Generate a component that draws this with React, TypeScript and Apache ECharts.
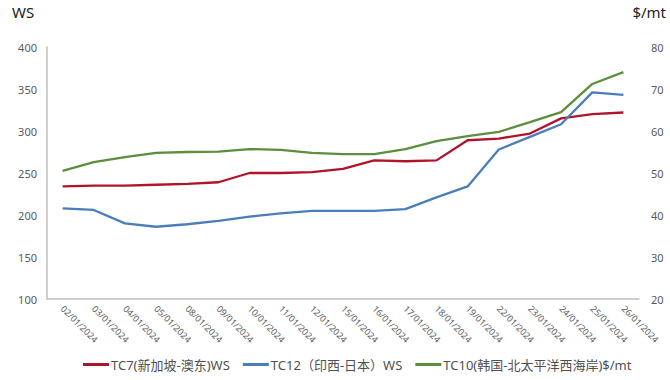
import React, { useEffect, useRef } from "react";
import * as echarts from "echarts";

const categories = [
  "02/01/2024", "03/01/2024", "04/01/2024", "05/01/2024", "08/01/2024",
  "09/01/2024", "10/01/2024", "11/01/2024", "12/01/2024", "15/01/2024",
  "16/01/2024", "17/01/2024", "18/01/2024", "19/01/2024", "22/01/2024",
  "23/01/2024", "24/01/2024", "25/01/2024", "26/01/2024",
];

const tc7Name = "TC7(新加坡-澳东)WS";
const tc12Name = "TC12（印西-日本）WS";
const tc10Name = "TC10(韩国-北太平洋西海岸)$/mt";

const tc7Values = [234, 235, 235, 236, 237, 239, 250, 250, 251, 255, 265, 264, 265, 289, 291, 297, 315, 320, 322];
const tc12Values = [208, 206, 190, 186, 189, 193, 198, 202, 205, 205, 205, 207, 221, 234, 278, 293, 308, 346, 343];
const tc10Values = [50.5, 52.6, 53.8, 54.8, 55.0, 55.1, 55.7, 55.5, 54.8, 54.5, 54.5, 55.7, 57.6, 58.8, 59.8, 62.1, 64.5, 71.2, 74.0];

const leftMin = 100, leftMax = 400, leftStep = 50;
const rightMin = 20, rightMax = 80, rightStep = 10;

export default function App() {
  const ref = useRef<HTMLDivElement>(null);
  useEffect(() => {
    if (!ref.current) return;
    const chart = echarts.init(ref.current, null, { renderer: "svg" });
    const font = "'Noto Sans', 'Noto Sans CJK SC', sans-serif";
    const labelColor = "#595959";
    chart.setOption({
      animation: false,
      backgroundColor: "#ffffff",
      textStyle: { fontFamily: font },
      grid: { left: 47, right: 31, top: 47, bottom: 81, containLabel: false },
      graphic: [
        { type: "text", left: 12, top: 4, style: { text: "WS", fontSize: 15, fill: "#222", fontFamily: font } },
        { type: "text", right: 4, top: 4, style: { text: "$/mt", fontSize: 15, fill: "#222", fontFamily: font } },
      ],
      legend: {
        bottom: 4,
        left: 78,
        itemWidth: 26,
        itemHeight: 3,
        itemGap: 13,
        icon: "rect",
        textStyle: { fontSize: 13, color: "#505050", fontFamily: font, padding: [0, 0, 0, -3] },
        data: [tc7Name, tc12Name, tc10Name],
      },
      xAxis: {
        type: "category",
        data: categories,
        boundaryGap: true,
        axisLine: { show: true, lineStyle: { color: "#bfbfbf", width: 1.5 } },
        axisTick: { show: false },
        axisLabel: { rotate: -45, fontSize: 9, color: labelColor, interval: 0, margin: 8 },
      },
      yAxis: [
        {
          type: "value",
          min: leftMin,
          max: leftMax,
          interval: leftStep,
          axisLine: { show: true, lineStyle: { color: "#bfbfbf", width: 1.5 } },
          axisTick: { show: false },
          splitLine: { show: false },
          axisLabel: { fontSize: 11, color: labelColor, margin: 10 },
        },
        {
          type: "value",
          min: rightMin,
          max: rightMax,
          interval: rightStep,
          position: "right",
          axisLine: { show: false },
          axisTick: { show: false },
          splitLine: { show: false },
          axisLabel: { fontSize: 11, color: labelColor, margin: 12 },
        },
      ],
      series: [
        {
          name: tc7Name, type: "line", yAxisIndex: 0, data: tc7Values,
          showSymbol: false, lineStyle: { color: "#B0142A", width: 2.3 }, itemStyle: { color: "#B0142A" },
        },
        {
          name: tc12Name, type: "line", yAxisIndex: 0, data: tc12Values,
          showSymbol: false, lineStyle: { color: "#4A7EBB", width: 2.3 }, itemStyle: { color: "#4A7EBB" },
        },
        {
          name: tc10Name, type: "line", yAxisIndex: 1, data: tc10Values,
          showSymbol: false, lineStyle: { color: "#5B8F3C", width: 2.3 }, itemStyle: { color: "#5B8F3C" },
        },
      ],
    });
    return () => chart.dispose();
  }, []);
  return <div ref={ref} style={{ position: "absolute", left: 0, top: 0, width: 670, height: 380 }} />;
}
